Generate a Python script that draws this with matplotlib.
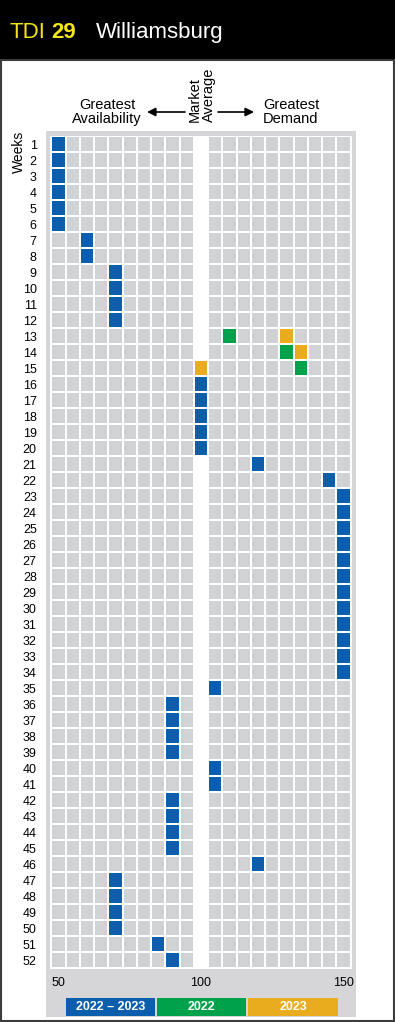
import matplotlib
matplotlib.use("Agg")
import matplotlib.pyplot as plt
from matplotlib.patches import Rectangle, FancyArrowPatch

plt.rcParams['font.family'] = ['Liberation Sans', 'DejaVu Sans']

# ---------------- data ----------------
weeks = list(range(1, 53))
columns = list(range(50, 155, 5))
market_average = 100
x_ticks = [50, 100, 150]

blue_weeks = list(range(1, 13)) + list(range(16, 53))
blue_values = ([50] * 6 + [60] * 2 + [70] * 4 +
               [100] * 5 + [120, 145] + [150] * 12 +
               [105] + [90] * 4 + [105] * 2 + [90] * 4 + [120] +
               [70] * 4 + [85, 90])
green_weeks = [13, 14, 15]
green_values = [110, 130, 135]
orange_weeks = [13, 14, 15]
orange_values = [130, 135, 100]

legend_labels = ["2022 \u2013 2023", "2022", "2023"]

# ---------------- style ----------------
W, H = 395, 1022
BLUE = "#0b5eab"
GREEN = "#00a14b"
ORANGE = "#e8ac1e"
CELL = "#d1d2d4"
PANEL = "#d6d6d8"


def fx(px):
    return px / W


def fy(py):
    return 1 - py / H


fig = plt.figure(figsize=(W / 100, H / 100), dpi=100)
fig.patch.set_facecolor("white")

# header band
fig.add_artist(Rectangle((0, fy(60)), 1, 60 / H, transform=fig.transFigure,
                         facecolor="black", edgecolor="none", zorder=0))
# outer frame
fig.add_artist(Rectangle((fx(1), fy(1021)), fx(393), (1021 - 60) / H,
                         transform=fig.transFigure, facecolor="none",
                         edgecolor="#3c3c3c", linewidth=1.5, zorder=0))
# gray panel
fig.add_artist(Rectangle((fx(46), fy(1017)), fx(356 - 46), (1017 - 131) / H,
                         transform=fig.transFigure, facecolor=PANEL,
                         edgecolor="none", zorder=0))

# header text
fig.text(fx(9), fy(38), "TDI", color="#f5e61a", fontsize=16,
         va="baseline", ha="left")
fig.text(fx(51), fy(38), "29", color="#f5e61a", fontsize=16,
         fontweight="bold", va="baseline", ha="left")
fig.text(fx(96), fy(38), "Williamsburg", color="white", fontsize=16,
         va="baseline", ha="left")

# top annotations
fig.text(fx(107), fy(123), "Greatest\nAvailability", fontsize=10.5,
         ha="center", va="baseline", multialignment="center", linespacing=1.0)
fig.text(fx(291), fy(123), "Greatest\nDemand", fontsize=10.5,
         ha="center", va="baseline", multialignment="center", linespacing=1.0)
fig.text(fx(202), fy(122), "Market\nAverage", fontsize=10.5, rotation=90,
         ha="center", va="bottom", multialignment="left", linespacing=1.0)
for x0, x1 in [(185, 147), (218, 254)]:
    fig.add_artist(FancyArrowPatch((fx(x0), fy(112)), (fx(x1), fy(112)),
                                   transform=fig.transFigure,
                                   arrowstyle="-|>,head_length=5,head_width=2.5",
                                   color="black", linewidth=1.2,
                                   shrinkA=0, shrinkB=0))
fig.text(fx(19), fy(173), "Weeks", fontsize=10, rotation=90,
         ha="center", va="bottom")

# ---------------- grid axes ----------------
ax = fig.add_axes([fx(50), fy(969), fx(302), (969 - 136) / H])
ax.set_facecolor("white")
ax.set_xlim(47, 153)
ax.set_ylim(52.56, 0.48)
for s in ax.spines.values():
    s.set_visible(False)

cw, ch = 4.3, 0.88
for w in weeks:
    for c in columns:
        if c == market_average:
            continue
        ax.add_patch(Rectangle((c - cw / 2, w - ch / 2), cw, ch,
                               facecolor=CELL, edgecolor="none"))


def mark(ws, vs, color):
    for w, v in zip(ws, vs):
        ax.add_patch(Rectangle((v - cw / 2, w - ch / 2), cw, ch,
                               facecolor=color, edgecolor="none", zorder=3))


mark(blue_weeks, blue_values, BLUE)
mark(green_weeks, green_values, GREEN)
mark(orange_weeks, orange_values, ORANGE)

ax.set_yticks(weeks)
ax.set_yticklabels([str(w) for w in weeks], fontsize=9)
ax.set_xticks(x_ticks)
ax.set_xticklabels([str(t) for t in x_ticks], fontsize=9)
ax.tick_params(axis="y", length=0, pad=9.5)
ax.tick_params(axis="x", length=0, pad=6)

# legend boxes
for (x0, x1), lab, col in zip([(66, 155), (157, 246), (248, 338)],
                              legend_labels, [BLUE, GREEN, ORANGE]):
    fig.add_artist(Rectangle((fx(x0), fy(1016)), fx(x1 - x0), 18 / H,
                             transform=fig.transFigure, facecolor=col,
                             edgecolor="none"))
    fig.text(fx((x0 + x1) / 2), fy(1007), lab, color="white", fontsize=9,
             fontweight="bold", ha="center", va="center")

fig.savefig("out.png", dpi=100)
